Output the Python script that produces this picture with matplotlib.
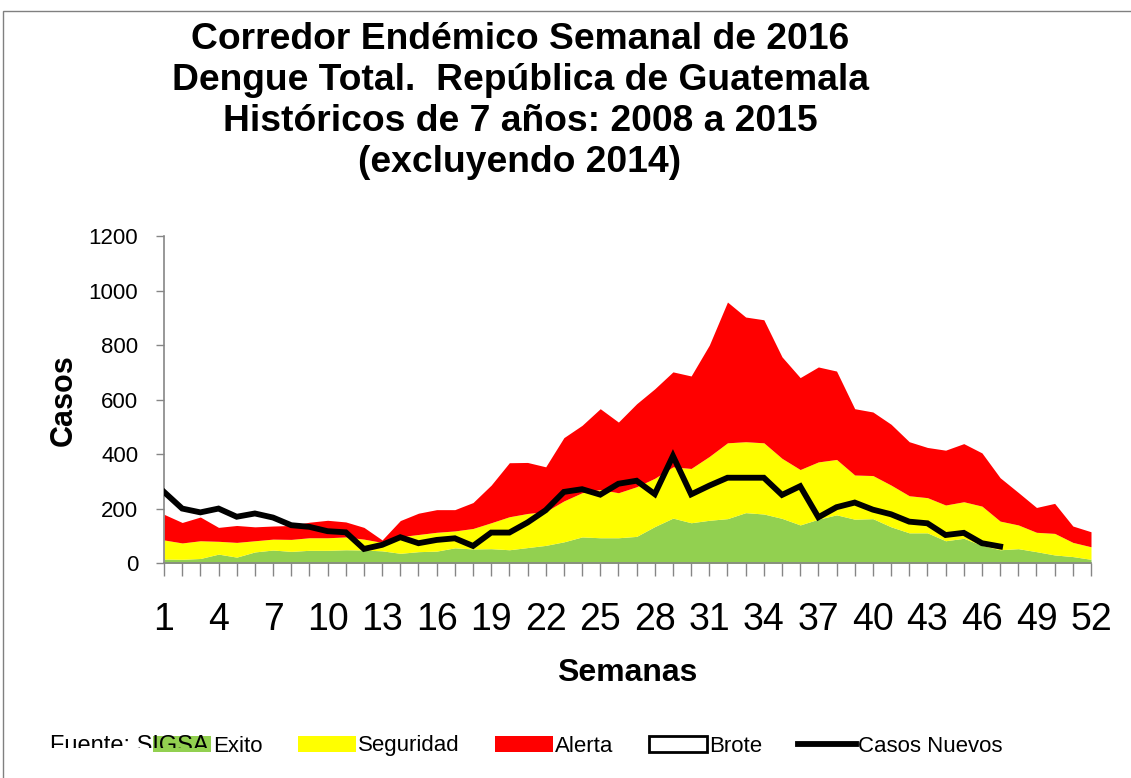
import matplotlib.pyplot as plt
from matplotlib.patches import Patch, Rectangle
from matplotlib.lines import Line2D
from matplotlib.transforms import Bbox

# semanas epidemiológicas
semanas = list(range(1, 53))

# límites del corredor (valores acumulados)
exito = [16, 15, 18, 34, 23, 42, 49, 44, 48, 48, 50, 49, 46, 37, 43, 45, 57, 53, 54, 50,
         58, 66, 79, 97, 94, 94, 99, 135, 166, 149, 158, 164, 186, 181, 165, 141, 162, 178,
         162, 164, 134, 112, 112, 83, 92, 66, 50, 54, 43, 31, 25, 15]
seguridad = [86, 75, 83, 81, 77, 83, 89, 88, 94, 94, 97, 89, 77, 98, 106, 114, 119, 128, 149, 171,
             183, 190, 229, 259, 271, 259, 281, 312, 354, 348, 392, 442, 446, 442, 385, 344, 372, 381,
             324, 322, 287, 248, 241, 214, 226, 210, 155, 141, 114, 110, 77, 61]
alerta = [180, 150, 170, 132, 139, 134, 137, 139, 151, 158, 152, 132, 86, 157, 184, 197, 197, 223, 287, 369,
          370, 354, 461, 506, 567, 518, 585, 640, 702, 687, 800, 958, 903, 893, 757, 681, 720, 705,
          567, 555, 510, 446, 425, 415, 439, 405, 314, 260, 205, 220, 137, 116]

# casos nuevos 2016 (semanas 1 a 47)
casos = [262, 201, 187, 201, 171, 183, 168, 140, 134, 118, 114, 53, 68, 96, 74, 86, 92, 64, 113, 113,
         150, 195, 262, 272, 252, 292, 303, 254, 394, 253, 285, 314, 314, 314, 251, 283, 169, 206,
         223, 197, 180, 153, 147, 104, 112, 74, 62]

verde = '#92D050'
amarillo = '#FFFF00'
rojo = '#FF0000'
gris = '#868686'

fig = plt.figure(figsize=(11.31, 7.78), dpi=100)
ax = fig.add_axes([164 / 1131, 1 - 563.4 / 778, 927 / 1131, 327.4 / 778])

ceros = [0] * len(semanas)
ax.fill_between(semanas, ceros, exito, color=verde, linewidth=0)
ax.fill_between(semanas, exito, seguridad, color=amarillo, linewidth=0)
ax.fill_between(semanas, seguridad, alerta, color=rojo, linewidth=0)
ax.plot(semanas[:len(casos)], casos, color='black', lw=4.2, solid_joinstyle='miter', zorder=5)

ax.set_xlim(1, 52)
ax.set_ylim(0, 1200)
ax.set_yticks(range(0, 1201, 200))
ax.set_xticks(semanas)
ax.set_xticklabels([str(s) if (s - 1) % 3 == 0 else '' for s in semanas])

for lado in ['top', 'right']:
    ax.spines[lado].set_visible(False)
for lado in ['left', 'bottom']:
    ax.spines[lado].set_color(gris)
    ax.spines[lado].set_linewidth(1.2)

ax.tick_params(axis='x', length=9, color=gris, width=1, pad=19, labelsize=27)
ax.tick_params(axis='y', length=5.5, color=gris, width=1, pad=13, labelsize=16)
for t in ax.get_xticklabels() + ax.get_yticklabels():
    t.set_family('Liberation Sans')

ax.set_xlabel('Semanas', fontsize=23, fontweight='bold', family='Liberation Sans', labelpad=14)
ax.set_ylabel('Casos', fontsize=22, fontweight='bold', family='Liberation Sans', labelpad=7)

fig.text(520 / 1131, 1 - 22 / 778,
         'Corredor Endémico Semanal de 2016\nDengue Total.  República de Guatemala\n'
         'Históricos de 7 años: 2008 a 2015\n(excluyendo 2014)',
         ha='center', va='top', fontsize=26.8, fontweight='bold', family='Liberation Sans',
         linespacing=1.22)

# borde del área del gráfico
fig.patches.append(Rectangle((3 / 1131, -0.1), 1.2, 1 - 11 / 778 + 0.1, transform=fig.transFigure,
                             fill=False, edgecolor='#808080', lw=1))

handles = [Patch(facecolor=verde, edgecolor='none'),
           Patch(facecolor=amarillo, edgecolor='none'),
           Patch(facecolor=rojo, edgecolor='none'),
           Patch(facecolor='white', edgecolor='black', lw=2),
           Line2D([0], [0], color='black', lw=4.2)]
etiquetas = ['Exito', 'Seguridad', 'Alerta', 'Brote', 'Casos Nuevos']
fig.legend(handles, etiquetas, loc='center left', bbox_to_anchor=(133 / 1131, 1 - 746 / 778),
           ncol=5, frameon=False, handlelength=2.6, handleheight=0.7, handletextpad=0.1,
           columnspacing=1.6, prop={'family': 'Liberation Sans', 'size': 16})

# fuente (recortada, encima de la leyenda)
fuente = fig.text(50 / 1131, 1 - 746 / 778, 'Fuente: SIGSA', fontsize=17, va='center',
                  family='Liberation Sans', zorder=6)
fuente.set_clip_box(Bbox.from_extents(0, 778 - 748, 1131, 778))
fuente.set_clip_on(True)

fig.savefig('out.png', dpi=100)
